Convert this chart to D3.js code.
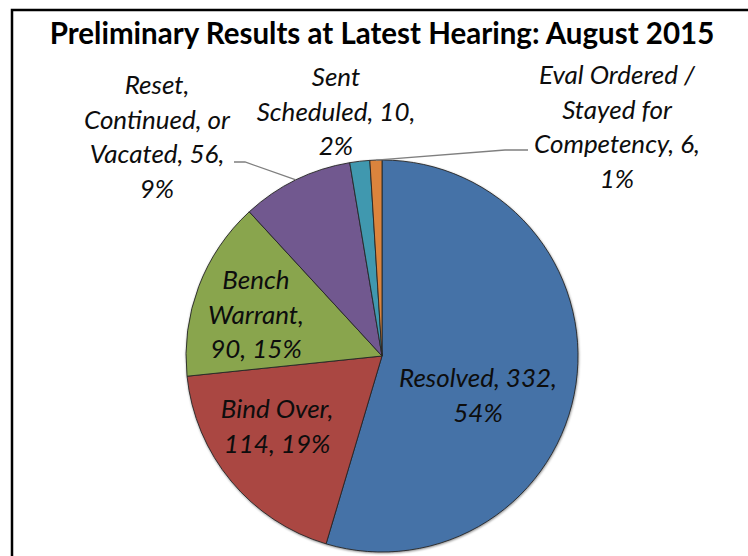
<!DOCTYPE html>
<html><head><meta charset="utf-8">
<script src="https://cdn.jsdelivr.net/npm/d3@7"></script>
<style>
html,body{margin:0;padding:0;background:#fff;}
svg{display:block;}
</style></head>
<body>
<svg id="chart" width="748" height="556"></svg>
<script>
const title = "Preliminary Results at Latest Hearing: August 2015";
const categories = ["Resolved", "Bind Over", "Bench Warrant", "Reset, Continued, or Vacated", "Sent Scheduled", "Eval Ordered / Stayed for Competency"];
const values = [332, 114, 90, 56, 10, 6];
const percents = ["54%", "19%", "15%", "9%", "2%", "1%"];
const colors = ["#4572A7", "#AA4643", "#89A54E", "#71588F", "#4198AF", "#DB843D"];
const labelLines = [
  ["Resolved, 332,", "54%"],
  ["Bind Over,", "114, 19%"],
  ["Bench", "Warrant,", "90, 15%"],
  ["Reset,", "Continued, or", "Vacated, 56,", "9%"],
  ["Sent", "Scheduled, 10,", "2%"],
  ["Eval Ordered /", "Stayed for", "Competency, 6,", "1%"]
];

const svg = d3.select("#chart");
const W = 748, H = 556;
const cx = 382, cy = 356, R = 196;

// frame
svg.append("path")
  .attr("d", `M12,${H+5} L12,10 L${W+5},10`)
  .attr("fill", "none").attr("stroke", "#000").attr("stroke-width", 2.5);

// title
svg.append("text")
  .attr("x", 382).attr("y", 44)
  .attr("text-anchor", "middle")
  .attr("font-family", "Lato, 'Open Sans', sans-serif")
  .attr("font-weight", "bold")
  .attr("font-size", 29.5)
  .attr("fill", "#000")
  .text(title);

const defs = svg.append("defs");
const f = defs.append("filter").attr("id", "sh").attr("x", "-10%").attr("y", "-10%").attr("width", "120%").attr("height", "120%");
f.append("feDropShadow").attr("dx", 0.5).attr("dy", 1).attr("stdDeviation", 1.2).attr("flood-color", "#000").attr("flood-opacity", 0.45);

const data = categories.map((c, i) => ({cat: c, value: values[i], color: colors[i], lines: labelLines[i]}));
const pie = d3.pie().value(d => d.value).sort(null).startAngle(0).endAngle(2 * Math.PI);
const arcs = pie(data);
const arc = d3.arc().innerRadius(0).outerRadius(R);

const g = svg.append("g").attr("transform", `translate(${cx},${cy})`);
g.append("g").attr("filter", "url(#sh)")
  .selectAll("path").data(arcs).join("path")
  .attr("d", arc)
  .attr("fill", d => d.data.color)
  .attr("stroke", "#262626").attr("stroke-width", 0.9).attr("stroke-linejoin", "round");

// label positions (text centre x, first baseline y)
const labelPos = [
  [478, 387], [277, 418], [256, 289], [157, 94], [336, 86], [617, 84]
];
const lineH = 34.5;

// leader lines for outside labels
const outer = d3.arc().innerRadius(R).outerRadius(R);
function edgePoint(i) { const c = outer.centroid(arcs[i]); return [cx + c[0], cy + c[1]]; }
const leaders = [
  {i: 3, pts: [[234, 162], [245, 162]]},
  {i: 5, pts: [[505, 150], [528, 150]]}
];
leaders.forEach(L => {
  const p0 = edgePoint(L.i);
  const pts = L.i === 3 ? [L.pts[0], L.pts[1], p0] : [p0, L.pts[0], L.pts[1]];
  svg.append("path").attr("d", d3.line()(pts))
    .attr("fill", "none").attr("stroke", "#7f7f7f").attr("stroke-width", 1.3);
});

svg.append("g").selectAll("text").data(data).join("text")
  .attr("text-anchor", "middle")
  .attr("font-family", "Lato, 'Open Sans', sans-serif")
  .attr("font-style", "italic")
  .attr("font-size", 26)
  .attr("fill", "#0d0d0d")
  .each(function(d, i) {
    const t = d3.select(this);
    d.lines.forEach((ln, k) => {
      t.append("tspan").attr("x", labelPos[i][0]).attr("y", labelPos[i][1] + k * lineH).text(ln);
    });
  });
</script>
</body></html>
